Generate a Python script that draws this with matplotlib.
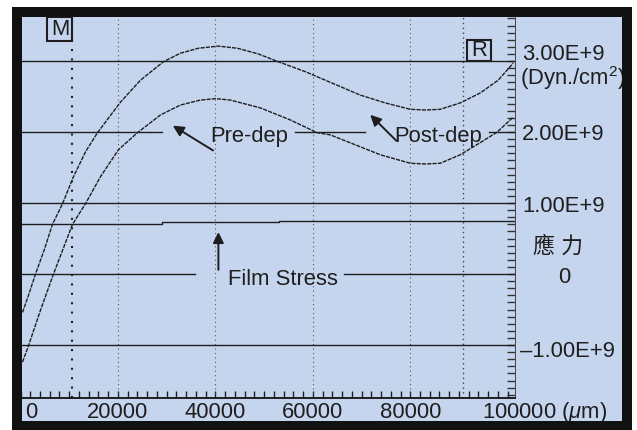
import numpy as np
import matplotlib
matplotlib.use('Agg')
import matplotlib.pyplot as plt
from matplotlib.patches import Rectangle
from matplotlib.ticker import MultipleLocator

plt.rcParams['font.family'] = ['Liberation Sans', 'Noto Sans CJK TC', 'DejaVu Sans']
plt.rcParams['mathtext.fontset'] = 'custom'
plt.rcParams['mathtext.rm'] = 'Liberation Sans'
plt.rcParams['mathtext.it'] = 'Liberation Sans:italic'

# stress curves, x in um, stress in 1E9 dyn/cm^2
post_x = [410, 1640, 3080, 4920, 6560, 8620, 10870, 13330, 15800, 20510, 24620,
          29330, 32820, 36510, 40620, 44510, 48820, 52920, 58460, 63590, 69740,
          74870, 80000, 83080, 86150, 90260, 94360, 98050, 101130]
post_y = [-0.54, -0.30, 0.0, 0.35, 0.70, 0.99, 1.37, 1.72, 1.99, 2.42, 2.73,
          2.99, 3.11, 3.18, 3.21, 3.18, 3.10, 2.99, 2.85, 2.70, 2.52,
          2.41, 2.32, 2.31, 2.32, 2.41, 2.55, 2.73, 2.97]
pre_x = [410, 1640, 4100, 6770, 10670, 13330, 16410, 20100, 24000, 28720, 32820,
         36920, 40000, 43080, 49230, 55380, 60920, 63590, 68720, 73850, 80000,
         83080, 86150, 90260, 94360, 97850, 101130]
pre_y = [-1.24, -1.01, -0.51, 0.0, 0.70, 0.99, 1.37, 1.75, 1.99, 2.24, 2.38,
         2.45, 2.47, 2.45, 2.34, 2.17, 1.99, 1.96, 1.82, 1.68, 1.56,
         1.55, 1.56, 1.68, 1.85, 2.00, 2.21]

# film stress level (small steps along the trace)
film_x = [0, 29000, 29000, 53000, 53000, 101500]
film_y = [0.70, 0.70, 0.73, 0.73, 0.75, 0.75]

# reference levels and the pieces drawn of them
full_levels = [3.0, 1.0, -1.0]
level2_segs = [(0, 29100), (56400, 70800), (96200, 101500)]
level0_segs = [(0, 35900), (66300, 101500)]

grid_x = [20000, 40000, 60000, 80000]
marker_m = 10670
marker_r = 90870

xtick_vals = [20000, 40000, 60000, 80000]
ylabels = ['3.00E+9', '2.00E+9', '1.00E+9', '\u20131.00E+9']

ink = '#1e1e1e'
bg = '#c6d5ee'
fs = 15.8

fig = plt.figure(figsize=(6.37, 4.30), dpi=100)
W, H = 637.0, 430.0

# blue panel with thick black frame
fig.patches.append(Rectangle((12 / W, 0), 620 / W, 423 / H, transform=fig.transFigure,
                             facecolor=bg, edgecolor='none', zorder=-5))
fig.patches.append(Rectangle((17 / W, 4.5 / H), 610 / W, 413.5 / H, transform=fig.transFigure,
                             facecolor='none', edgecolor='#111111', lw=7.2, zorder=10))

ax = fig.add_axes([20.5 / W, (H - 398) / H, 494.5 / W, 381 / H])
ax.set_facecolor('none')
ax.set_xlim(0, 101500)
ax.set_ylim(-1.746, 3.62)

for s in ['left', 'top']:
    ax.spines[s].set_visible(False)
ax.spines['bottom'].set_linewidth(1.3)
ax.spines['bottom'].set_color('#111111')
ax.spines['right'].set_linewidth(0.7)
ax.spines['right'].set_color('#444444')

ax.xaxis.set_major_locator(MultipleLocator(2000))
ax.yaxis.set_major_locator(MultipleLocator(0.1))
ax.tick_params(axis='x', direction='in', length=5, width=1.0, color=ink,
               labelbottom=False, top=False)
ax.tick_params(axis='y', direction='in', length=6, width=1.0, color='#333333',
               left=False, right=True, labelleft=False, labelright=False)

# vertical dotted lines
for gx in grid_x:
    ax.axvline(gx, color='#555555', lw=0.8, ls=(0, (1, 3)))
ax.axvline(marker_m, color='#222222', lw=1.5, ls=(0, (1, 3.5)))
ax.axvline(marker_r, color='#444444', lw=1.0, ls=(0, (1, 2.5)))

# horizontal reference lines
for lv in full_levels:
    ax.axhline(lv, color=ink, lw=1.0)
for a, b in level2_segs:
    ax.plot([a, b], [2.0, 2.0], color=ink, lw=1.0)
for a, b in level0_segs:
    ax.plot([a, b], [0.0, 0.0], color=ink, lw=1.0)
ax.plot(film_x, film_y, color=ink, lw=1.0)

# curves
ax.plot(post_x, post_y, color=ink, lw=1.0, ls=(0, (3, 0.8)))
ax.plot(pre_x, pre_y, color=ink, lw=1.0, ls=(0, (3, 0.8)))

# annotations
arrow = dict(arrowstyle='-|>', color=ink, lw=1.4, mutation_scale=16)
ax.annotate('', xy=(30770, 2.11), xytext=(40000, 1.72), arrowprops=arrow)
ax.annotate('', xy=(71380, 2.27), xytext=(77540, 1.85), arrowprops=arrow)
ax.annotate('', xy=(40620, 0.63), xytext=(40620, 0.02), arrowprops=arrow)
ax.text(46970, 1.86, 'Pre-dep', fontsize=fs, ha='center', va='baseline', color=ink)
ax.text(85640, 1.86, 'Post-dep', fontsize=fs, ha='center', va='baseline', color=ink)
ax.text(53850, -0.155, 'Film Stress', fontsize=fs, ha='center', va='baseline', color=ink)

# marker boxes M and R
ax.add_patch(Rectangle((5540, 3.28), 5130, 0.34, facecolor='none', edgecolor=ink,
                       lw=1.5, clip_on=False))
ax.text(8100, 3.45, 'M', fontsize=fs, ha='center', va='center', color=ink)
ax.add_patch(Rectangle((91690, 3.0), 4920, 0.296, facecolor='none', edgecolor=ink,
                       lw=1.5, clip_on=False))
ax.text(94150, 3.148, 'R', fontsize=fs, ha='center', va='center', color=ink)

# right side labels
ty = ax.get_yaxis_transform()
ax.text(1.014, 3.02, ylabels[0], transform=ty, fontsize=fs, ha='left', va='baseline', color=ink)
ax.text(1.010, 2.66, '(Dyn./cm$^2$)', transform=ty, fontsize=fs, ha='left', va='baseline', color=ink)
ax.text(1.014, 1.887, ylabels[1], transform=ty, fontsize=fs, ha='left', va='baseline', color=ink)
ax.text(1.014, 0.873, ylabels[2], transform=ty, fontsize=fs, ha='left', va='baseline', color=ink)
ax.text(1.087, 0.38, '\u61c9 \u529b', transform=ty, fontsize=fs, ha='center', va='center', color=ink)
ax.text(1.099, -0.127, '0', transform=ty, fontsize=fs, ha='center', va='baseline', color=ink)
ax.text(1.010, -1.169, ylabels[3], transform=ty, fontsize=fs, ha='left', va='baseline', color=ink)

# bottom labels
tx = ax.get_xaxis_transform()
ax.text(2260, -0.0525, '0', transform=tx, fontsize=fs, ha='center', va='baseline', color=ink)
for v in xtick_vals:
    ax.text(v, -0.0525, str(v), transform=tx, fontsize=fs, ha='center', va='baseline', color=ink)
ax.text(94770, -0.0525, '100000 ($\\mathit{\\mu}$m)', transform=tx, fontsize=fs,
        ha='left', va='baseline', color=ink)

fig.savefig('out.png', dpi=100)
